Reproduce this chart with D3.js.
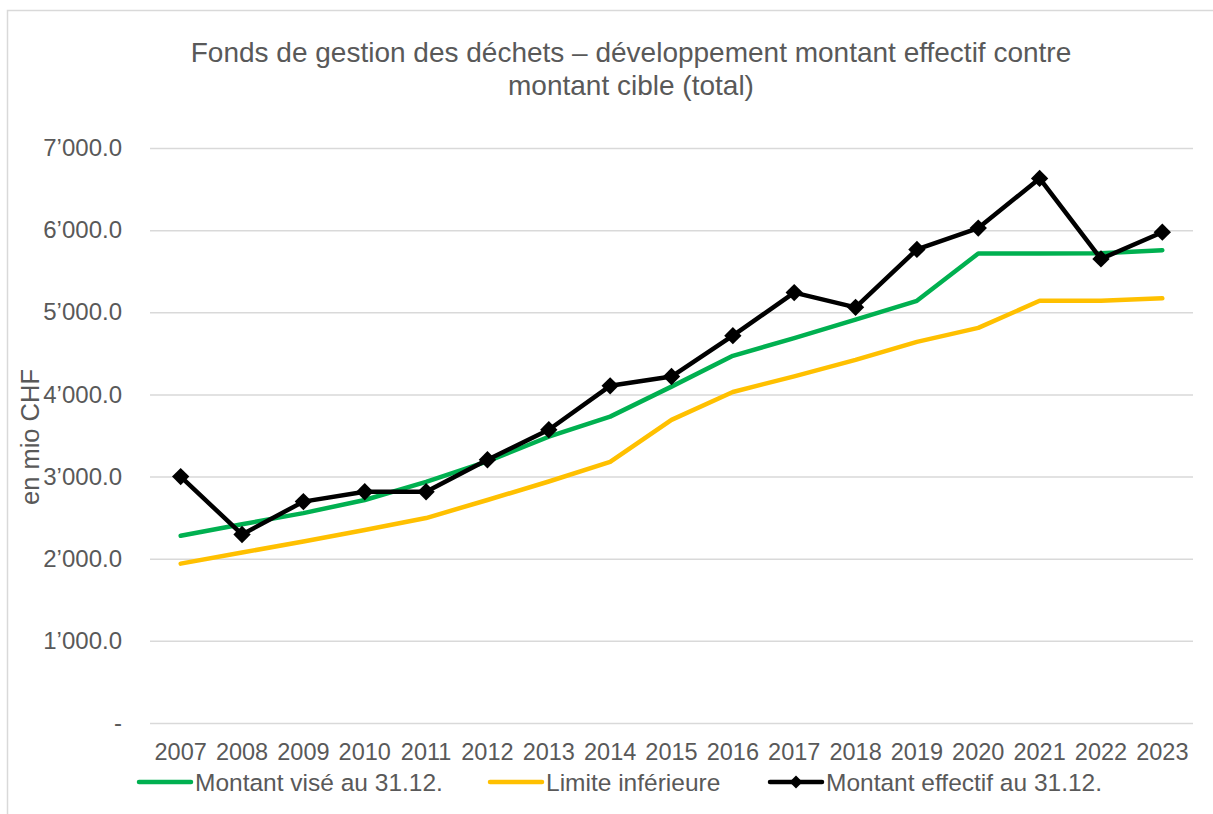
<!DOCTYPE html>
<html>
<head>
<meta charset="utf-8">
<script src="https://cdn.jsdelivr.net/npm/d3@7"></script>
<style>
	body { margin: 0; background: #fff; }
	text { font-family: "Liberation Sans", Arial, sans-serif; fill: #595959; }
</style>
</head>
<body>
<div id="chart"></div>
<script>
// data
var years = ['2007', '2008', '2009', '2010', '2011', '2012', '2013', '2014', '2015', '2016', '2017', '2018', '2019', '2020', '2021', '2022', '2023'];
var montantVise = [2280, 2420, 2555, 2715, 2935, 3185, 3485, 3730, 4095, 4470, 4685, 4910, 5140, 5715, 5715, 5720, 5755];
var limiteInf = [1940, 2075, 2210, 2350, 2495, 2715, 2940, 3180, 3690, 4030, 4220, 4420, 4640, 4810, 5140, 5140, 5170];
var montantEffectif = [3000, 2295, 2695, 2815, 2815, 3205, 3570, 4105, 4218, 4715, 5240, 5060, 5765, 6025, 6630, 5650, 5975];
var yTicks = [0, 1000, 2000, 3000, 4000, 5000, 6000, 7000];
var seriesNames = ['Montant visé au 31.12.', 'Limite inférieure', 'Montant effectif au 31.12.'];
var titleLines = ['Fonds de gestion des déchets – développement montant effectif contre', 'montant cible (total)'];
var yTitle = 'en mio CHF';

(function () {
	'use strict';

	var W = 1213, H = 814;
	var plot = {left: 150, right: 1193, top: 148, bottom: 723};
	var colors = ['#00b050', '#ffc000', '#000000'];

	var svg = d3.select('#chart').append('svg')
		.attr('width', W)
		.attr('height', H);

	// chart frame
	svg.append('rect')
		.attr('x', 7.5).attr('y', 10.5)
		.attr('width', 1400).attr('height', 1000)
		.attr('fill', 'none')
		.attr('stroke', '#d9d9d9')
		.attr('stroke-width', 1.5);

	var x = d3.scaleBand().domain(years).range([plot.left, plot.right]).padding(0);
	var y = d3.scaleLinear().domain([0, 7000]).range([plot.bottom, plot.top]);
	var cx = function (d, i) { return x(years[i]) + x.bandwidth() / 2; };

	var fmt = d3.formatLocale({decimal: '.', thousands: '’', grouping: [3], currency: ['', '']}).format(',.1f');

	// title
	svg.append('g').selectAll('text')
		.data(titleLines)
		.enter().append('text')
			.attr('x', 631)
			.attr('y', function (d, i) { return 62 + i * 33; })
			.attr('text-anchor', 'middle')
			.style('font-size', '28px')
			.text(function (d) { return d; });

	// y axis with gridlines
	var yAxis = svg.append('g')
		.attr('transform', 'translate(' + plot.left + ',0)')
		.call(d3.axisLeft(y).tickValues(yTicks).tickSize(-(plot.right - plot.left)).tickPadding(28)
			.tickFormat(function (d) { return d === 0 ? '-' : fmt(d); }));
	yAxis.select('.domain').remove();
	yAxis.selectAll('line').attr('stroke', '#d9d9d9').attr('stroke-width', 1.5);
	yAxis.selectAll('text').style('font-size', '24px').attr('fill', '#595959').attr('font-family', null);

	// x axis
	var xAxis = svg.append('g')
		.attr('transform', 'translate(0,' + plot.bottom + ')')
		.call(d3.axisBottom(x).tickSize(0).tickPadding(20));
	xAxis.select('.domain').remove();
	xAxis.selectAll('text').style('font-size', '23.5px').attr('fill', '#595959').attr('font-family', null);

	// y title
	svg.append('text')
		.attr('transform', 'translate(39,437) rotate(-90)')
		.attr('text-anchor', 'middle')
		.style('font-size', '25.5px')
		.text(yTitle);

	var line = d3.line()
		.x(cx)
		.y(function (d) { return y(d); });

	var series = [montantVise, limiteInf, montantEffectif];
	series.forEach(function (s, k) {
		svg.append('path')
			.datum(s)
			.attr('d', line)
			.attr('fill', 'none')
			.attr('stroke', colors[k])
			.attr('stroke-width', 4.5)
			.attr('stroke-linejoin', 'round')
			.attr('stroke-linecap', 'round');
	});

	var diamond = d3.symbol().type(d3.symbolSquare).size(150);
	svg.append('g').selectAll('path')
		.data(montantEffectif)
		.enter().append('path')
			.attr('d', diamond)
			.attr('fill', '#000')
			.attr('transform', function (d, i) { return 'translate(' + cx(d, i) + ',' + y(d) + ') rotate(45)'; });

	// legend
	var legendX = [137, 488, 768];
	var legend = svg.append('g').selectAll('g')
		.data(seriesNames)
		.enter().append('g')
			.attr('transform', function (d, i) { return 'translate(' + legendX[i] + ',782)'; });
	legend.append('line')
		.attr('x1', 2).attr('x2', 54)
		.attr('stroke', function (d, i) { return colors[i]; })
		.attr('stroke-width', 4.5)
		.attr('stroke-linecap', 'round');
	legend.filter(function (d, i) { return i === 2; })
		.append('path')
			.attr('d', d3.symbol().type(d3.symbolSquare).size(85))
			.attr('transform', 'translate(28,0) rotate(45)')
			.attr('fill', '#000');
	legend.append('text')
		.attr('x', 58)
		.attr('dy', '0.35em')
		.style('font-size', '24.5px')
		.text(function (d) { return d; });
})();
</script>
</body>
</html>
